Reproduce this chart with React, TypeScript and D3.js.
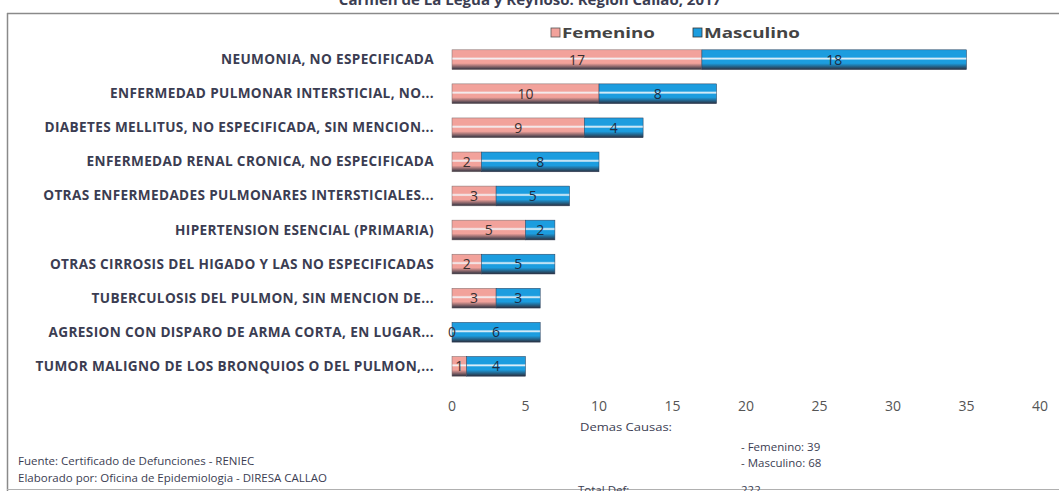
import React from 'react';
import * as d3 from 'd3';

const categories = [
  'NEUMONIA, NO ESPECIFICADA',
  'ENFERMEDAD PULMONAR INTERSTICIAL, NO...',
  'DIABETES MELLITUS, NO ESPECIFICADA, SIN MENCION...',
  'ENFERMEDAD RENAL CRONICA, NO ESPECIFICADA',
  'OTRAS ENFERMEDADES PULMONARES INTERSTICIALES...',
  'HIPERTENSION ESENCIAL (PRIMARIA)',
  'OTRAS CIRROSIS DEL HIGADO Y LAS NO ESPECIFICADAS',
  'TUBERCULOSIS DEL PULMON, SIN MENCION DE...',
  'AGRESION CON DISPARO DE ARMA CORTA, EN LUGAR...',
  'TUMOR MALIGNO DE LOS BRONQUIOS O DEL PULMON,...',
];
const femenino = [17, 10, 9, 2, 3, 5, 2, 3, 0, 1];
const masculino = [18, 8, 4, 8, 5, 2, 5, 3, 6, 4];
const xTicks = [0, 5, 10, 15, 20, 25, 30, 35, 40];
const seriesNames = ['Femenino', 'Masculino'];

const PINK = '#f2a29b';
const BLUE = '#1c9ddf';
const LABEL = '#3b3d52';

export default function App() {
  const width = 1059;
  const height = 491;
  const x = d3.scaleLinear().domain([0, 40]).range([452, 1040]);
  const y = d3.scaleBand<string>()
    .domain(categories)
    .range([43, 383])
    .paddingInner(0.42)
    .paddingOuter(0.2);
  const bh = y.bandwidth();

  const rows = categories.map((c, i) => ({
    name: c,
    f: femenino[i],
    m: masculino[i],
  }));

  const font = '"Open Sans", Lato, sans-serif';

  return (
    <svg
      width={width}
      height={height}
      style={{ position: 'absolute', left: 0, top: 0, background: '#fff' }}
      fontFamily={font}
    >
      <defs>
        {[['gF', PINK], ['gM', BLUE]].map(([id, col]) => (
          <linearGradient key={id} id={id} x1="0" y1="0" x2="0" y2="1">
            <stop offset="0%" stopColor={col} />
            <stop offset="36%" stopColor={col} />
            <stop offset="45%" stopColor="#f4f8fb" />
            <stop offset="53%" stopColor={col} />
            <stop offset="68%" stopColor={col} />
            <stop offset="100%" stopColor="#2b2f3e" />
          </linearGradient>
        ))}
      </defs>

      {/* titulo cortado */}
      <text x={530} y={5} textAnchor="middle" fontSize={15} fontWeight="bold" fill="#3b3d52">
        Carmen de La Legua y Reynoso. Región Callao, 2017
      </text>

      {/* marco */}
      <line x1={7} x2={width} y1={13.5} y2={13.5} stroke="#8a8a8a" strokeWidth={1.5} />
      <line x1={7.5} x2={7.5} y1={13} y2={height} stroke="#8a8a8a" strokeWidth={1.5} />
      <line x1={7} x2={width} y1={489.5} y2={489.5} stroke="#b0b0b0" strokeWidth={1} />

      {/* leyenda */}
      <g fontSize={15} fontWeight="bold" fill="#444">
        <rect x={551} y={28} width={9} height={9} fill={PINK} stroke="#555" strokeWidth={0.8} />
        <text x={562} y={38} textLength={93} lengthAdjust="spacingAndGlyphs">{seriesNames[0]}</text>
        <rect x={693} y={28} width={9} height={9} fill={BLUE} stroke="#333" strokeWidth={0.8} />
        <text x={704} y={38} textLength={96} lengthAdjust="spacingAndGlyphs">{seriesNames[1]}</text>
      </g>

      {/* etiquetas de categoria */}
      <g fontSize={13.6} fontWeight="bold" fill={LABEL} textAnchor="end" letterSpacing={0.35}>
        {rows.map((d) => (
          <text key={d.name} x={434} y={(y(d.name) ?? 0) + bh / 2 + 4.5}>{d.name}</text>
        ))}
      </g>

      {/* barras */}
      {rows.map((d) => {
        const y0 = y(d.name) ?? 0;
        const xm = x(d.f);
        return (
          <g key={d.name}>
            {d.f > 0 && (
              <rect x={x(0)} y={y0} width={x(d.f) - x(0)} height={bh} fill="url(#gF)" stroke="#7a6a6a" strokeWidth={0.5} />
            )}
            <rect x={xm} y={y0} width={x(d.f + d.m) - xm} height={bh} fill="url(#gM)" stroke="#2b3b55" strokeWidth={0.5} />
            <text x={(x(0) + xm) / 2} y={y0 + bh / 2 + 5} textAnchor="middle" fontSize={14} fill="#3a3030">{d.f}</text>
            <text x={(xm + x(d.f + d.m)) / 2} y={y0 + bh / 2 + 5} textAnchor="middle" fontSize={14} fill="#1c2c44">{d.m}</text>
          </g>
        );
      })}

      {/* eje x */}
      <g fontSize={14} fill="#555" textAnchor="middle">
        {xTicks.map((t) => (
          <text key={t} x={x(t)} y={411}>{t}</text>
        ))}
      </g>

      {/* notas */}
      <g fontSize={11.5} fill="#3b3d52">
        <text x={580} y={431} textLength={92} lengthAdjust="spacingAndGlyphs">Demas Causas:</text>
        <text x={741} y={451}>- Femenino: 39</text>
        <text x={741} y={467}>- Masculino: 68</text>
        <text x={578} y={494}>Total Def:</text>
        <text x={741} y={494}>222</text>
        <text x={18} y={465}>Fuente: Certificado de Defunciones - RENIEC</text>
        <text x={18} y={482}>Elaborado por: Oficina de Epidemiologia - DIRESA CALLAO</text>
      </g>
    </svg>
  );
}
